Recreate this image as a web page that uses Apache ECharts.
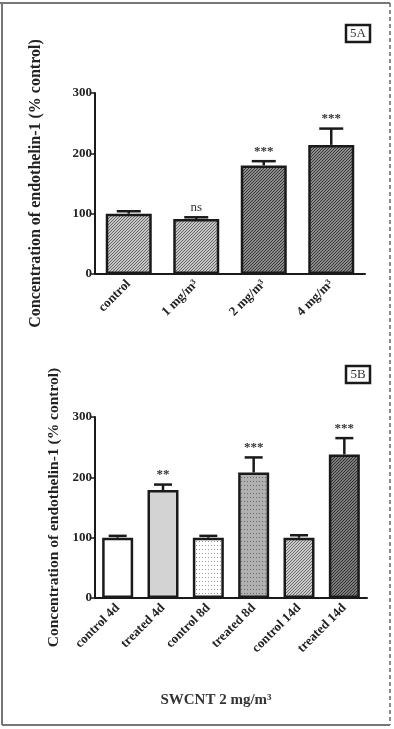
<!DOCTYPE html>
<html>
<head>
<meta charset="utf-8">
<script src="https://cdn.jsdelivr.net/npm/echarts@6/dist/echarts.min.js"></script>
<style>html,body{margin:0;padding:0;background:#fff}#c{width:394px;height:729px}</style>
</head>
<body>
<div id="c"></div>
<script>
// ---- data ----
const catsA = ['control', '1 mg/m³', '2 mg/m³', '4 mg/m³'];
const valsA = [100, 91, 180, 214];
const errA = [4, 3, 7, 27];
const sigA = ['', 'ns', '***', '***'];

const catsB = ['control 4d', 'treated 4d', 'control 8d', 'treated 8d', 'control 14d', 'treated 14d'];
const valsB = [100, 179, 100, 208, 100, 238];
const errB = [3, 9, 3, 25, 4, 27];
const sigB = ['', '**', '', '***', '', '***'];

const yTicks = [0, 100, 200, 300];
const yTitle = 'Concentration of endothelin-1 (% control)';
const xTitleB = 'SWCNT 2 mg/m³';

// ---- patterns ----
function hatch(bg, fg, step) {
  const c = document.createElement('canvas');
  c.width = step; c.height = step;
  const g = c.getContext('2d');
  g.fillStyle = bg; g.fillRect(0, 0, step, step);
  g.strokeStyle = fg; g.lineWidth = 1;
  g.beginPath();
  g.moveTo(0, step); g.lineTo(step, 0);
  g.moveTo(-1, 1); g.lineTo(1, -1);
  g.moveTo(step - 1, step + 1); g.lineTo(step + 1, step - 1);
  g.stroke();
  return { image: c, repeat: 'repeat' };
}
function dots(bg, fg, sx, sy) {
  const c = document.createElement('canvas');
  c.width = sx; c.height = sy;
  const g = c.getContext('2d');
  g.fillStyle = bg; g.fillRect(0, 0, sx, sy);
  g.fillStyle = fg; g.fillRect(1, 1, 1, 1);
  return { image: c, repeat: 'repeat' };
}
const fillA = [hatch('#c4c4c4', '#6a6a6a', 3), hatch('#c4c4c4', '#6a6a6a', 3), hatch('#8a8a8a', '#3a3a3a', 3), hatch('#8a8a8a', '#3a3a3a', 3)];
const fillB = ['#ffffff', '#d3d3d3', dots('#ffffff', '#9a9a9a', 3, 4), dots('#b0b0b0', '#6a6a6a', 3, 4), hatch('#c8c8c8', '#707070', 3), hatch('#7a7a7a', '#333333', 3)];

const FONT = 'Liberation Serif';

function errSeries(xi, yi, vals, errs, sigs, capW) {
  return {
    type: 'custom', xAxisIndex: xi, yAxisIndex: yi, z: 5,
    data: vals.map((v, i) => [i, v, v + errs[i]]),
    renderItem: function (params, api) {
      const i = api.value(0);
      const p0 = api.coord([i, api.value(1)]);
      const p1 = api.coord([i, api.value(2)]);
      const ch = [
        { type: 'line', shape: { x1: p0[0], y1: p0[1], x2: p1[0], y2: p1[1] }, style: { stroke: '#1a1a1a', lineWidth: 2.5 } },
        { type: 'line', shape: { x1: p1[0] - capW / 2, y1: p1[1], x2: p1[0] + capW / 2, y2: p1[1] }, style: { stroke: '#1a1a1a', lineWidth: 2.5 } }
      ];
      const s = sigs[params.dataIndex];
      if (s) ch.push({ type: 'text', x: p1[0], y: p1[1] - 3, style: { text: s, fill: '#333', font: (s === 'ns' ? '' : 'bold ') + '13px "' + FONT + '"', textAlign: 'center', textVerticalAlign: 'bottom' } });
      return { type: 'group', children: ch };
    }
  };
}

function xAx(idx, cats) {
  return {
    type: 'category', gridIndex: idx, data: cats,
    axisLine: { lineStyle: { color: '#1a1a1a', width: 2 } },
    axisTick: { alignWithLabel: true, length: 5, lineStyle: { color: '#1a1a1a', width: 1.5 } },
    axisLabel: { rotate: 45, margin: 8, fontFamily: FONT, fontWeight: 'bold', fontSize: 13, color: '#222', interval: 0 }
  };
}
function yAx(idx, gap, fs) {
  return {
    type: 'value', gridIndex: idx, min: yTicks[0], max: yTicks[yTicks.length - 1], interval: 100,
    name: yTitle, nameLocation: 'middle', nameGap: gap,
    nameTextStyle: { fontFamily: FONT, fontWeight: 'bold', fontSize: fs, color: '#222' },
    axisLine: { show: true, lineStyle: { color: '#1a1a1a', width: 2 } },
    axisTick: { show: true, length: 4, lineStyle: { color: '#1a1a1a', width: 1.5 } },
    splitLine: { show: false },
    axisLabel: { margin: 3, fontFamily: FONT, fontWeight: 'bold', fontSize: 13, color: '#222' }
  };
}

const chart = echarts.init(document.getElementById('c'), null, { renderer: 'canvas' });
chart.setOption({
  animation: false,
  backgroundColor: '#fff',
  grid: [
    { left: 95, top: 93, width: 270, height: 181 },
    { left: 95, top: 417, width: 272, height: 181 }
  ],
  xAxis: [xAx(0, catsA), xAx(1, catsB)],
  yAxis: [yAx(0, 51, 16), yAx(1, 33, 15.5)],
  series: [
    {
      type: 'bar', xAxisIndex: 0, yAxisIndex: 0, barWidth: 46,
      data: valsA.map((v, i) => ({ value: v, itemStyle: { color: fillA[i] } })),
      itemStyle: { borderColor: '#1a1a1a', borderWidth: 2.5 }
    },
    {
      type: 'bar', xAxisIndex: 1, yAxisIndex: 1, barWidth: 31,
      data: valsB.map((v, i) => ({ value: v, itemStyle: { color: fillB[i] } })),
      itemStyle: { borderColor: '#1a1a1a', borderWidth: 2.5 }
    },
    errSeries(0, 0, valsA, errA, sigA, 24),
    errSeries(1, 1, valsB, errB, sigB, 18)
  ],
  graphic: [
    { type: 'line', shape: { x1: 0, y1: 3, x2: 390, y2: 3 }, style: { stroke: '#777', lineWidth: 2 } },
    { type: 'line', shape: { x1: 2, y1: 3, x2: 2, y2: 725 }, style: { stroke: '#777', lineWidth: 2 } },
    { type: 'line', shape: { x1: 2, y1: 725, x2: 390, y2: 725 }, style: { stroke: '#777', lineWidth: 2 } },
    { type: 'line', shape: { x1: 390, y1: 3, x2: 390, y2: 725 }, style: { stroke: '#666', lineWidth: 1.5, lineDash: [4, 3] } },
    { type: 'rect', shape: { x: 346, y: 25, width: 24, height: 17 }, style: { fill: '#fff', stroke: '#1a1a1a', lineWidth: 2.5 } },
    { type: 'text', x: 358, y: 33.5, style: { text: '5A', font: '13px "' + FONT + '"', fill: '#333', textAlign: 'center', textVerticalAlign: 'middle' } },
    { type: 'rect', shape: { x: 346, y: 366, width: 24, height: 17 }, style: { fill: '#fff', stroke: '#1a1a1a', lineWidth: 2.5 } },
    { type: 'text', x: 358, y: 374.5, style: { text: '5B', font: '13px "' + FONT + '"', fill: '#333', textAlign: 'center', textVerticalAlign: 'middle' } },
    { type: 'text', x: 216, y: 700, style: { text: xTitleB, font: 'bold 15px "' + FONT + '"', fill: '#333', textAlign: 'center', textVerticalAlign: 'middle' } }
  ]
});
</script>
</body>
</html>
